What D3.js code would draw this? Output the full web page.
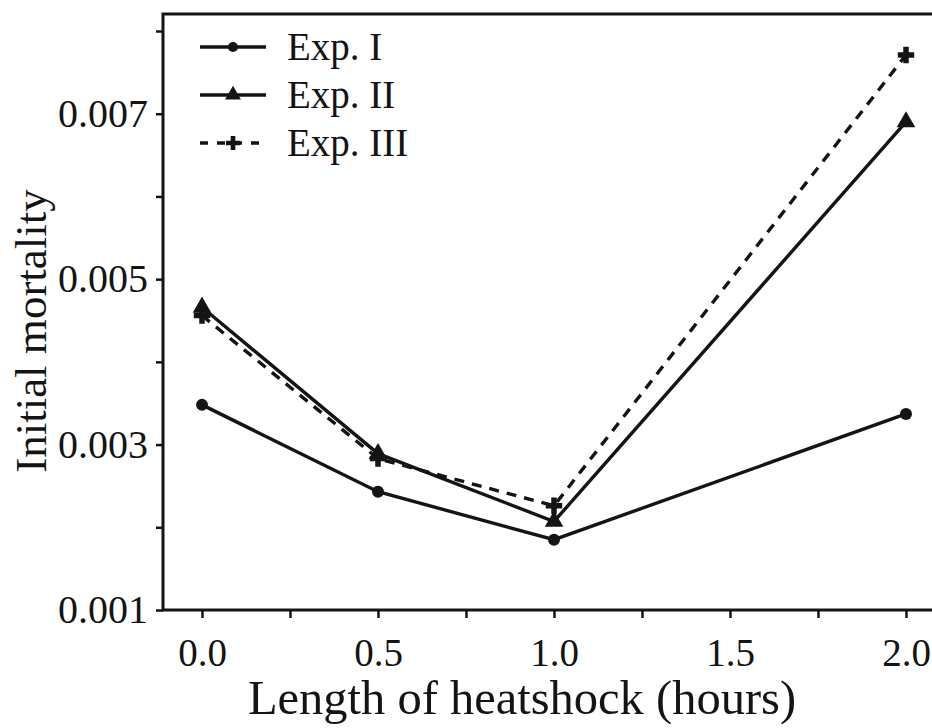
<!DOCTYPE html>
<html><head><meta charset="utf-8">
<script src="https://cdn.jsdelivr.net/npm/d3@7"></script>
<style>body{margin:0;background:#fff}svg{display:block}</style>
</head><body>
<svg id="c" width="932" height="728"></svg>
<script>
const hours = [0.0, 0.5, 1.0, 2.0];
const expI   = [0.00348, 0.00243, 0.00185, 0.00337];
const expII  = [0.00466, 0.00289, 0.00207, 0.00690];
const expIII = [0.00456, 0.00283, 0.00226, 0.00771];
const seriesNames = ["Exp. I", "Exp. II", "Exp. III"];
const xTicks = [0, 0.25, 0.5, 0.75, 1.0, 1.25, 1.5, 1.75, 2.0];
const xTickLabels = ["0.0", "", "0.5", "", "1.0", "", "1.5", "", "2.0"];
const yTicks = [0.001, 0.002, 0.003, 0.004, 0.005, 0.006, 0.007, 0.008];
const yTickLabels = ["0.001", "", "0.003", "", "0.005", "", "0.007", ""];

const svg = d3.select("#c");
const ink = "#141414";
const font = "'Liberation Serif','Times New Roman',serif";

const x = d3.scaleLinear().domain([0, 2]).range([202, 906]);
const y = d3.scaleLinear().domain([0.001, 0.008]).range([610, 31]);
const frameLeft = 163, frameTop = 14, frameRight = 940, frameBottom = 610;

// frame
svg.append("path")
  .attr("d", `M${frameRight},${frameTop}H${frameLeft}V${frameBottom}H${frameRight}`)
  .attr("fill", "none").attr("stroke", ink).attr("stroke-width", 3);

// x axis
const xa = svg.append("g").attr("transform", `translate(0,${frameBottom})`)
  .call(d3.axisBottom(x).tickValues(xTicks)
    .tickFormat((d, i) => xTickLabels[i]).tickSize(8).tickPadding(20));
xa.select(".domain").remove();
xa.selectAll("line").attr("stroke", ink).attr("stroke-width", 2.5);
xa.selectAll("text").attr("font-family", font).attr("font-size", 39).attr("fill", ink);

// y axis
const ya = svg.append("g").attr("transform", `translate(${frameLeft},0)`)
  .call(d3.axisLeft(y).tickValues(yTicks)
    .tickFormat((d, i) => yTickLabels[i]).tickSize(7).tickPadding(8));
ya.select(".domain").remove();
ya.selectAll("line").attr("stroke", ink).attr("stroke-width", 2.5);
ya.selectAll("text").attr("font-family", font).attr("font-size", 40).attr("fill", ink);

// titles
svg.append("text").attr("x", 522).attr("y", 714).attr("text-anchor", "middle")
  .attr("font-family", font).attr("font-size", 48.5).attr("fill", ink)
  .text("Length of heatshock (hours)");
svg.append("text").attr("transform", "translate(46,331) rotate(-90)")
  .attr("text-anchor", "middle")
  .attr("font-family", font).attr("font-size", 45).attr("fill", ink)
  .text("Initial mortality");

const data = [expI, expII, expIII];
const styles = [
  {dash: null, marker: "circle"},
  {dash: null, marker: "triangle"},
  {dash: "10,8", marker: "plus"}
];
const line = d3.line().x((d, i) => x(hours[i])).y(d => y(d));

function drawMarker(g, type, cx, cy, s) {
  if (type === "circle") {
    g.append("circle").attr("cx", cx).attr("cy", cy).attr("r", 6 * s).attr("fill", ink);
  } else if (type === "triangle") {
    g.append("path").attr("d", d3.symbol(d3.symbolTriangle, 150 * s * s)())
      .attr("transform", `translate(${cx},${cy})`).attr("fill", ink);
  } else {
    g.append("path").attr("d", d3.symbol(d3.symbolCross, 150 * s * s)())
      .attr("transform", `translate(${cx},${cy})`).attr("fill", ink);
  }
}

data.forEach((vals, k) => {
  svg.append("path").datum(vals).attr("d", line)
    .attr("fill", "none").attr("stroke", ink).attr("stroke-width", 3.4)
    .attr("stroke-dasharray", styles[k].dash);
  const g = svg.append("g");
  vals.forEach((v, i) => drawMarker(g, styles[k].marker, x(hours[i]), y(v), 1));
});

// legend
const lg = svg.append("g");
seriesNames.forEach((name, k) => {
  const ly = 47 + k * 48;
  lg.append("line").attr("x1", 200).attr("x2", 266).attr("y1", ly).attr("y2", ly)
    .attr("stroke", ink).attr("stroke-width", 3.4)
    .attr("stroke-dasharray", k === 2 ? "8,9" : null);
  drawMarker(lg, styles[k].marker, 233, ly, 0.85);
  lg.append("text").attr("x", 287).attr("y", ly + 13)
    .attr("font-family", font).attr("font-size", 39).attr("fill", ink).text(name);
});
</script>
</body></html>
